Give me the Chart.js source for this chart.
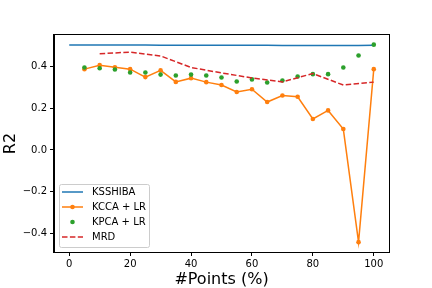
<!DOCTYPE html>
<html>
<head>
<meta charset="utf-8">
<script src="https://cdn.jsdelivr.net/npm/chart.js@4.4.1/dist/chart.umd.min.js"></script>
<style>
  html,body{margin:0;padding:0;background:#fff;}
  #wrap{width:432px;height:288px;}
</style>
</head>
<body>
<div id="wrap"><canvas id="c" width="432" height="288"></canvas></div>
<script>
Chart.defaults.font.family = "'DejaVu Sans', sans-serif";
Chart.defaults.color = '#000';

// data
const kssX   = [0,5,10,15,20,25,30,35,40,45,50,55,60,65,70,75,80,85,90,95,100];
const kss    = [0.501,0.501,0.501,0.501,0.501,0.501,0.500,0.500,0.500,0.500,0.500,0.500,0.500,0.500,0.499,0.499,0.499,0.499,0.499,0.499,0.500];
const kccaX  = [5,10,15,20,25,30,35,40,45,50,55,60,65,70,75,80,85,90,95,100];
const kcca   = [0.386,0.405,0.395,0.386,0.348,0.380,0.325,0.343,0.324,0.310,0.277,0.290,0.229,0.260,0.254,0.148,0.189,0.100,-0.440,0.386];
const kpcaX  = [5,10,15,20,25,30,35,40,45,50,55,60,65,70,75,80,85,90,95,100];
const kpca   = [0.394,0.390,0.384,0.370,0.370,0.360,0.356,0.360,0.356,0.346,0.327,0.337,0.322,0.332,0.351,0.362,0.362,0.394,0.451,0.503];
const mrdX   = [10,20,30,40,50,60,70,80,90,100];
const mrd    = [0.460,0.467,0.449,0.394,0.368,0.344,0.325,0.365,0.310,0.324];
const xTicks = [0,20,40,60,80,100];
const yTicks = [-0.4,-0.2,0.0,0.2,0.4];
const names  = ['KSSHIBA','KCCA + LR','KPCA + LR','MRD'];

const pts = (xs, ys) => xs.map((x,i) => ({x:x, y:ys[i]}));
const blue='#1f77b4', orange='#ff7f0e', green='#2ca02c', red='#d62728';

const frameAndLegend = {
  id:'frameAndLegend',
  afterDatasetsDraw(chart){
    const c = chart.ctx, a = chart.chartArea;
    c.save();
    c.strokeStyle = '#000'; c.lineWidth = 1;
    c.strokeRect(Math.round(a.left)-0.5, Math.round(a.top)-0.5, Math.round(a.right-a.left)+1, Math.round(a.bottom-a.top)+1);
    c.restore();
  },
  afterDraw(chart){
    const c = chart.ctx;
    c.save();
    c.beginPath();
    c.roundRect(59.5,184.5,90,63,2);
    c.fillStyle = 'rgba(255,255,255,0.8)'; c.fill();
    c.strokeStyle = '#cccccc'; c.lineWidth = 1; c.stroke();
    const rows = [192,207,222,237];
    c.font = "10px 'DejaVu Sans'"; c.textBaseline = 'middle'; c.textAlign = 'left';
    rows.forEach((y,i) => {
      c.lineWidth = 1.5; c.setLineDash([]);
      if (i === 0 || i === 1 || i === 3) {
        c.strokeStyle = [blue,orange,null,red][i];
        if (i === 3) c.setLineDash([5.5,2.4]);
        c.beginPath(); c.moveTo(62,y); c.lineTo(83,y); c.stroke();
      }
      if (i === 1 || i === 2) {
        c.fillStyle = i === 1 ? orange : green;
        c.beginPath(); c.arc(72.5,y,2.3,0,Math.PI*2); c.fill();
      }
      c.fillStyle = '#000';
      c.fillText(names[i], 92, y+0.5);
    });
    c.restore();
  }
};

new Chart(document.getElementById('c').getContext('2d'), {
  type:'line',
  data:{
    datasets:[
      {label:names[0], data:pts(kssX,kss), borderColor:blue, borderWidth:1.5, pointRadius:0, order:4},
      {label:names[1], data:pts(kccaX,kcca), borderColor:orange, backgroundColor:orange, borderWidth:1.5,
        pointRadius:2.3, pointBorderWidth:0, order:3},
      {label:names[2], data:pts(kpcaX,kpca), showLine:false, borderColor:green, backgroundColor:green,
        pointRadius:2.3, pointBorderWidth:0, order:2},
      {label:names[3], data:pts(mrdX,mrd), borderColor:red, borderWidth:1.5, borderDash:[5.5,2.4], pointRadius:0, order:1}
    ]
  },
  options:{
    responsive:false, animation:false,
    layout:{padding:{top:35, right:43, left:0, bottom:0}},
    plugins:{legend:{display:false}, tooltip:{enabled:false}},
    scales:{
      x:{type:'linear', min:-5, max:105,
        afterBuildTicks:s => { s.ticks = xTicks.map(v => ({value:v})); },
        afterFit:s => { s.height = 36; },
        grid:{drawOnChartArea:false, tickLength:4, color:'#000'},
        border:{color:'#000'},
        ticks:{font:{size:10}, padding:2, maxRotation:0},
        title:{display:true, text:'#Points (%)', font:{size:16}, padding:{top:0,bottom:-1}}
      },
      y:{type:'linear', min:-0.487, max:0.549,
        afterBuildTicks:s => { s.ticks = yTicks.map(v => ({value:v})); },
        afterFit:s => { s.width = 54; },
        grid:{drawOnChartArea:false, tickLength:4, color:'#000'},
        border:{color:'#000'},
        ticks:{font:{size:10}, padding:3, callback:v => v.toFixed(1).replace('-','\u2212')},
        title:{display:true, text:'R2', font:{size:16}, padding:{top:1,bottom:0}}
      }
    }
  },
  plugins:[frameAndLegend]
});
</script>
</body>
</html>
